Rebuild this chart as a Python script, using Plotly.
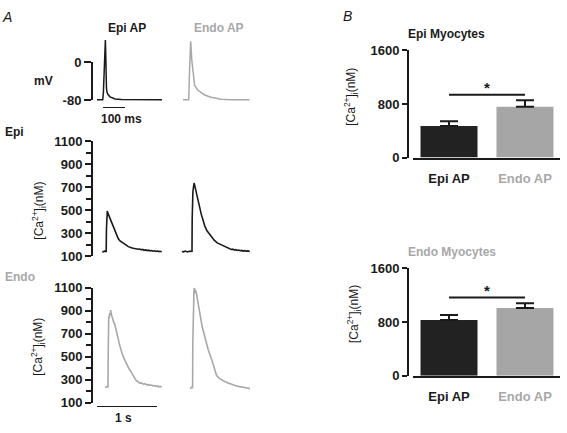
import plotly.graph_objects as go

W, H = 567, 433
DARK = "#1a1a1a"
GRAY = "#a8a8a8"
FONT = "Liberation Sans, Arial, sans-serif"

# ---------------- data ----------------
# Action potentials (time in ms, membrane potential in mV)
epi_ap_t = [0, 26, 29, 33, 36, 38, 39.5, 41, 43, 45, 50, 59, 70, 82, 110, 160, 230, 295]
epi_ap_v = [-80, -80, -65, -10, 30, 47, 20, -40, -55, -64, -69, -74, -77, -78.5, -79.5, -80, -80, -80]
endo_ap_t = [0, 26, 29, 35, 40, 45, 53, 68, 99, 127, 173, 220, 303]
endo_ap_v = [-80, -80, -30, 44, 4, -23, -50, -60, -70, -75, -79, -80, -80]
mv_ticks = [0, -80]
mv_ticktext = ["0", "-80"]

# Ca transients (time in s, [Ca2+]i in nM)
epi_ca1_t = [0.055, 0.07, 0.09, 0.11, 0.12, 0.124, 0.128, 0.133, 0.138, 0.145, 0.155, 0.167, 0.18, 0.195,
             0.212, 0.23, 0.25, 0.267, 0.29, 0.32, 0.35, 0.39, 0.43, 0.46, 0.489, 0.52, 0.54, 0.57, 0.6,
             0.63, 0.655, 0.68, 0.7, 0.73, 0.75, 0.78, 0.8, 0.83, 0.85, 0.88, 0.9, 0.93, 0.95, 0.98, 1.0,
             1.02, 1.045]
epi_ca1_y = [140, 136, 143, 138, 141, 330, 470, 480, 492, 478, 465, 440, 420, 405, 390, 362, 330, 308, 282,
             252, 232, 215, 200, 193, 182, 180, 173, 168, 164, 166, 159, 161, 155, 158, 150, 154, 148, 151,
             145, 148, 142, 146, 141, 144, 139, 142, 138]
epi_ca2_t = [0.033, 0.06, 0.09, 0.12, 0.15, 0.18, 0.2, 0.203, 0.207, 0.215, 0.225, 0.235, 0.245, 0.255,
             0.265, 0.28, 0.3, 0.32, 0.34, 0.355, 0.38, 0.412, 0.45, 0.49, 0.522, 0.57, 0.62, 0.65, 0.688,
             0.72, 0.75, 0.78, 0.8, 0.83, 0.855, 0.88, 0.9, 0.93, 0.95, 0.98, 1.0, 1.03, 1.05, 1.08, 1.1,
             1.13, 1.162]
epi_ca2_y = [140, 137, 143, 136, 141, 138, 142, 420, 650, 660, 700, 736, 715, 690, 665, 635, 602, 548, 498,
             463, 420, 363, 320, 290, 266, 238, 215, 208, 195, 188, 178, 176, 168, 166, 157, 160, 153, 156,
             149, 152, 146, 149, 143, 147, 142, 145, 141]
endo_ca1_t = [0.1, 0.12, 0.14, 0.15, 0.153, 0.157, 0.162, 0.17, 0.18, 0.19, 0.195, 0.205, 0.215, 0.23,
              0.245, 0.261, 0.29, 0.317, 0.35, 0.4, 0.45, 0.5, 0.539, 0.572, 0.6, 0.62, 0.65, 0.683, 0.71,
              0.74, 0.77, 0.8, 0.83, 0.85, 0.88, 0.9, 0.93, 0.95, 0.98, 1.0, 1.02, 1.045]
endo_ca1_y = [240, 236, 243, 240, 500, 800, 850, 835, 880, 860, 905, 870, 850, 830, 800, 785, 720, 660, 590,
              505, 445, 395, 366, 330, 310, 295, 285, 268, 272, 262, 265, 255, 258, 251, 254, 246, 250, 243,
              247, 238, 242, 234]
endo_ca2_t = [0.167, 0.18, 0.195, 0.21, 0.213, 0.218, 0.225, 0.232, 0.238, 0.245, 0.255, 0.265, 0.278, 0.3,
              0.333, 0.37, 0.417, 0.47, 0.528, 0.57, 0.61, 0.66, 0.7, 0.73, 0.75, 0.78, 0.8, 0.84, 0.89, 0.92,
              0.95, 0.98, 1.0, 1.04, 1.08, 1.12, 1.167]
endo_ca2_y = [232, 227, 235, 232, 600, 930, 1010, 1060, 1100, 1050, 1080, 1070, 1040, 960, 869, 760, 659,
              560, 477, 410, 337, 310, 295, 290, 283, 279, 270, 266, 253, 250, 245, 243, 238, 235, 230, 228, 223]

# Bar charts (panel B)
categories = ["Epi AP", "Endo AP"]
epi_myo_mean = [471, 760]
epi_myo_sem = [72, 95]
endo_myo_mean = [832, 1010]
endo_myo_sem = [72, 68]
sig_level = [937, 1165]

# ---------------- helpers ----------------
def px(x):
    return x / W

def py(y):
    return 1 - y / H

def dom_y(top, bottom):
    return [py(bottom), py(top)]

def dom_x(left, right):
    return [px(left), px(right)]

fig = go.Figure()

line_dark = dict(color=DARK, width=1.5)
line_gray = dict(color=GRAY, width=1.5)
ca_dark = dict(color=DARK, width=1.6)
ca_gray = dict(color=GRAY, width=1.6)

# AP traces
fig.add_trace(go.Scatter(x=epi_ap_t, y=epi_ap_v, mode="lines", line=line_dark, xaxis="x", yaxis="y"))
fig.add_trace(go.Scatter(x=endo_ap_t, y=endo_ap_v, mode="lines", line=line_gray, xaxis="x2", yaxis="y"))
# Ca traces
fig.add_trace(go.Scatter(x=epi_ca1_t, y=epi_ca1_y, mode="lines", line=ca_dark, xaxis="x3", yaxis="y3"))
fig.add_trace(go.Scatter(x=epi_ca2_t, y=epi_ca2_y, mode="lines", line=ca_dark, xaxis="x4", yaxis="y3"))
fig.add_trace(go.Scatter(x=endo_ca1_t, y=endo_ca1_y, mode="lines", line=ca_gray, xaxis="x3", yaxis="y4"))
fig.add_trace(go.Scatter(x=endo_ca2_t, y=endo_ca2_y, mode="lines", line=ca_gray, xaxis="x4", yaxis="y4"))
# scale-bar subplots (empty)
fig.add_trace(go.Scatter(x=[], y=[], xaxis="x5", yaxis="y5"))
fig.add_trace(go.Scatter(x=[], y=[], xaxis="x6", yaxis="y5"))
fig.add_trace(go.Scatter(x=[], y=[], xaxis="x7", yaxis="y5"))

# Bars
bar_colors = ["#222222", "#a6a6a6"]
for mean, sem, xa, ya, sig in [(epi_myo_mean, epi_myo_sem, "x8", "y8", sig_level[0]),
                               (endo_myo_mean, endo_myo_sem, "x9", "y9", sig_level[1])]:
    fig.add_trace(go.Bar(x=categories, y=mean, width=0.75, marker=dict(color=bar_colors, line=dict(width=0)),
                         error_y=dict(type="data", array=sem, arrayminus=[0, 0], symmetric=False,
                                      color=DARK, thickness=2, width=9),
                         xaxis=xa, yaxis=ya))
    fig.add_trace(go.Scatter(x=categories, y=[sig, sig], mode="lines", line=dict(color=DARK, width=2),
                             xaxis=xa, yaxis=ya))

hidden = dict(visible=False)
tickfont = dict(family=FONT, size=13, color=DARK, weight="bold")

ca_y = dict(range=[100, 1100], anchor="free", position=px(92), showline=True, linewidth=2, linecolor=DARK,
            ticks="outside", ticklen=6, tickwidth=2, tickcolor=DARK, tick0=100, dtick=200,
            minor=dict(tick0=100, dtick=100, ticks="outside", ticklen=5, tickwidth=1.5, tickcolor=DARK),
            tickfont=tickfont, showgrid=False, zeroline=False)

bar_y = dict(range=[0, 1600], anchor="free", position=px(408), showline=True, linewidth=2, linecolor=DARK,
             ticks="outside", ticklen=5, tickwidth=2, tickcolor=DARK, tickvals=[0, 800, 1600],
             tickfont=tickfont, showgrid=False, zeroline=False)

bar_x = dict(type="category", range=[-0.474, 1.461], showline=True, linewidth=2, linecolor=DARK,
             ticks="", tickvals=categories,
             ticktext=[f'<span style="color:{DARK}">Epi AP</span>', f'<span style="color:{GRAY}">Endo AP</span>'],
             tickfont=tickfont, ticklabelstandoff=8, showgrid=False, zeroline=False)

fig.update_layout(
    width=W, height=H, margin=dict(l=0, r=0, t=0, b=0),
    paper_bgcolor="white", plot_bgcolor="rgba(0,0,0,0)", showlegend=False,
    font=dict(family=FONT, color=DARK),
    xaxis=dict(domain=dom_x(97, 162), range=[0, 295], **hidden),
    xaxis2=dict(domain=dom_x(183, 250), range=[0, 305], **hidden),
    yaxis=dict(domain=dom_y(30, 100), range=[-88.2, 55.4], **hidden),
    xaxis3=dict(domain=dom_x(99, 165), range=[0, 1.1], anchor="y3", **hidden),
    xaxis4=dict(domain=dom_x(180, 252), range=[0, 1.2], anchor="y3", **hidden),
    yaxis3=dict(domain=dom_y(139, 258), **ca_y),
    yaxis4=dict(domain=dom_y(290.7, 410), **ca_y),
    # mV scale bar
    xaxis5=dict(domain=dom_x(93, 96), range=[0, 1], anchor="y5", **hidden),
    yaxis5=dict(domain=dom_y(57, 96.5), range=[-80, 0], anchor="free", position=px(92),
                showline=True, linewidth=2, linecolor=DARK, ticks="outside", ticklen=7, tickwidth=2,
                tickcolor=DARK, tickvals=mv_ticks, ticktext=mv_ticktext, tickfont=tickfont,
                showgrid=False, zeroline=False),
    # 100 ms bar
    xaxis6=dict(domain=dom_x(103, 125), range=[0, 100], anchor="free", position=py(103.3),
                showline=True, linewidth=1, linecolor=DARK, showticklabels=False, ticks="",
                showgrid=False, zeroline=False),
    # 1 s bar
    xaxis7=dict(domain=dom_x(97, 157), range=[0, 1], anchor="free", position=py(413.3),
                showline=True, linewidth=1, linecolor=DARK, showticklabels=False, ticks="",
                showgrid=False, zeroline=False),
    xaxis8=dict(domain=dom_x(413, 560), anchor="y8", **bar_x),
    yaxis8=dict(domain=dom_y(45, 156), **bar_y),
    xaxis9=dict(domain=dom_x(413, 560), anchor="y9", **bar_x),
    yaxis9=dict(domain=dom_y(270.7, 382), **bar_y),
)

def label(text, x, y, size=12, color=DARK, bold=True, italic=False, angle=0):
    fig.add_annotation(text=text, x=px(x), y=py(y), xref="paper", yref="paper", showarrow=False,
                       xanchor="center", yanchor="middle", textangle=angle,
                       font=dict(family=FONT, size=size, color=color,
                                 weight="bold" if bold else "normal",
                                 style="italic" if italic else "normal"))

ca_label = "[Ca<sup>2+</sup>]<sub>i</sub>(nM)"
label("A", 7, 10, size=14, bold=False, italic=True)
label("B", 347, 9, size=14, bold=False, italic=True)
label("Epi AP", 127, 22)
label("Endo AP", 219, 22, color=GRAY)
label("mV", 43, 77)
label("100 ms", 121, 116)
label("Epi", 14, 129)
label("Endo", 20, 280, color=GRAY)
label("1 s", 123, 426)
label(ca_label, 39, 211, bold=False, angle=-90)
label(ca_label, 38, 352, bold=False, angle=-90)
label(ca_label, 351, 93, bold=False, angle=-90)
label(ca_label, 354, 318, bold=False, angle=-90)
label("Epi Myocytes", 446, 28)
label("Endo Myocytes", 452, 254, color=GRAY)

for xa, ya, sig in [("x8", "y8", sig_level[0]), ("x9", "y9", sig_level[1])]:
    fig.add_annotation(text="*", x=0.5, y=sig, xref=xa, yref=ya, showarrow=False, yanchor="bottom",
                       yshift=-3, font=dict(family=FONT, size=15, color=DARK, weight="bold"))

fig.write_html("out.html", config={"displayModeBar": False},
               post_script="document.body.style.margin='0px';")
